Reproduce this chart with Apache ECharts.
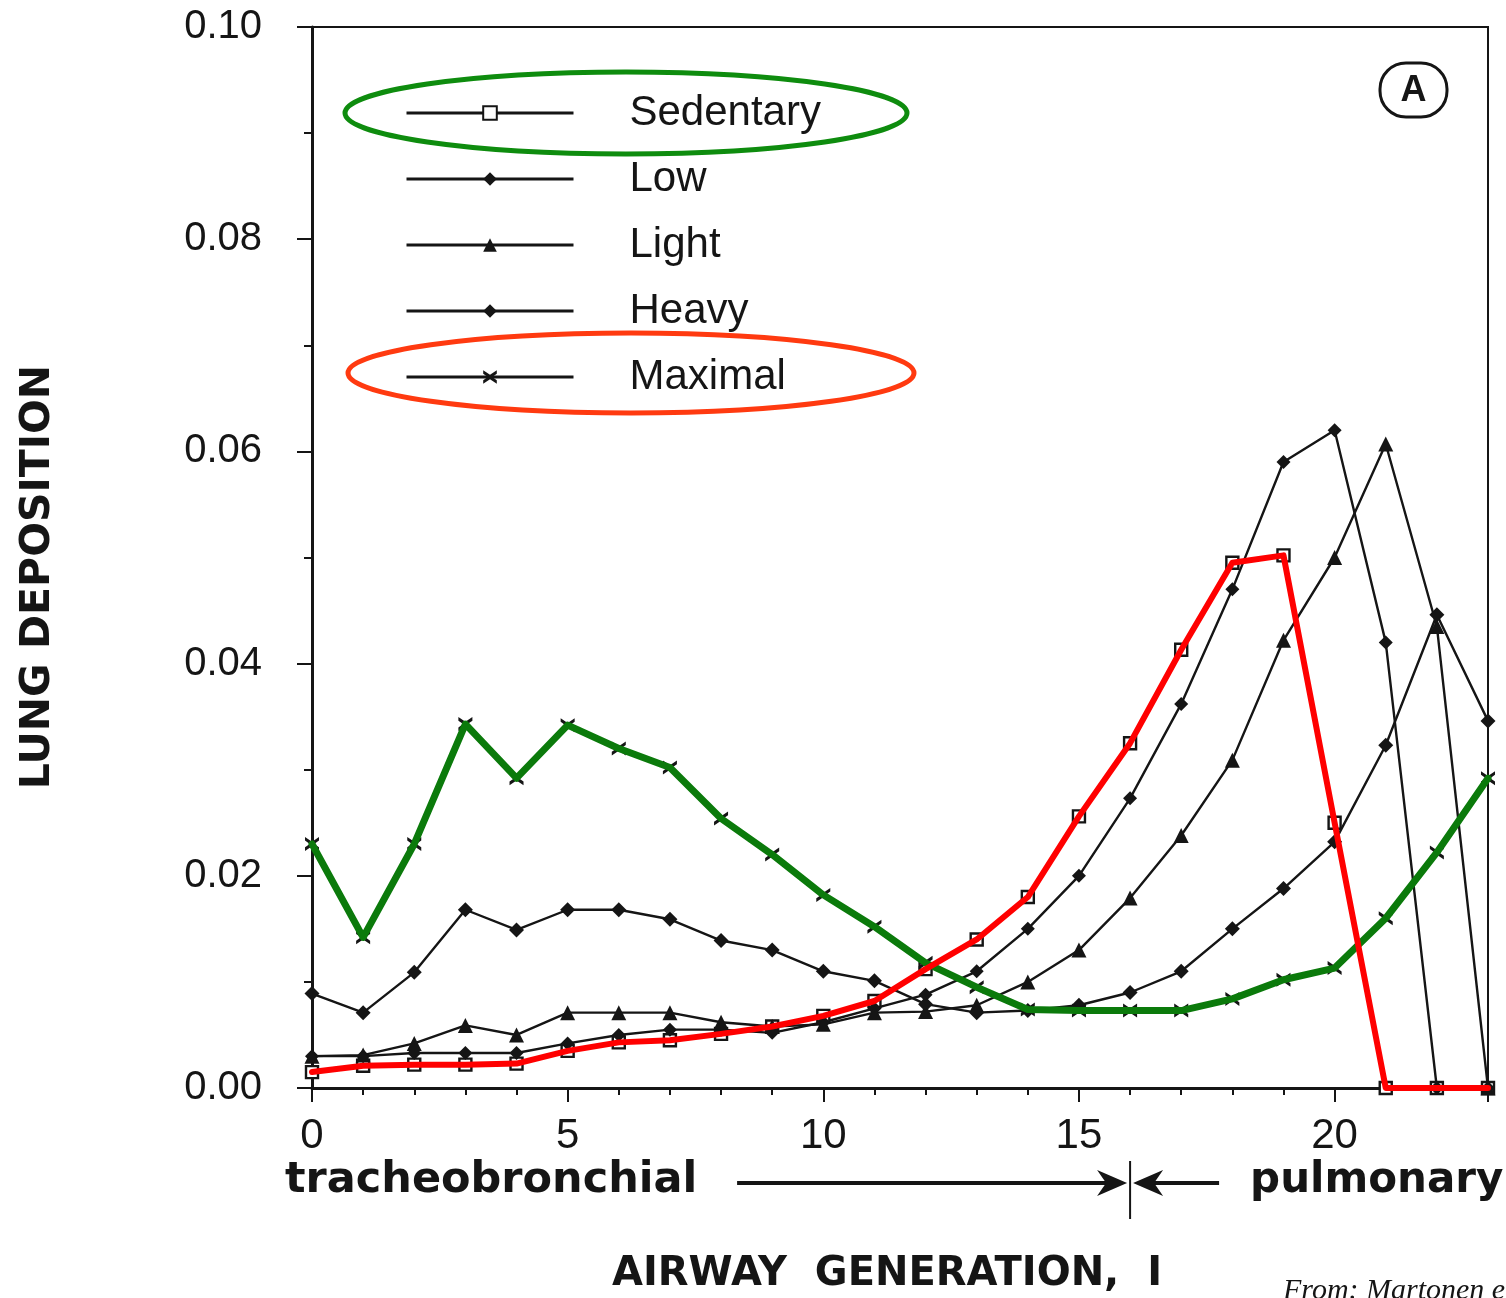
<!DOCTYPE html>
<html>
<head>
<meta charset="utf-8">
<script src="https://cdn.jsdelivr.net/npm/echarts@6/dist/echarts.min.js"></script>
<style>
  html, body { margin: 0; padding: 0; background: #ffffff; }
  #chart { width: 1506px; height: 1298px; }
</style>
</head>
<body>
<div id="chart"></div>
<script>
// Airway generation index (0 = trachea)
const generations = [0, 1, 2, 3, 4, 5, 6, 7, 8, 9, 10, 11, 12, 13, 14, 15, 16, 17, 18, 19, 20, 21, 22, 23];

// Fractional lung deposition per generation, by activity level
const sedentary = [0.0015, 0.0021, 0.0022, 0.0022, 0.0023, 0.0035, 0.0043, 0.0045, 0.0051, 0.0058, 0.0068, 0.0082,
                   0.0112, 0.0140, 0.0180, 0.0256, 0.0325, 0.0413, 0.0495, 0.0502, 0.0250, 0, 0, 0];
const low       = [0.0030, 0.0030, 0.0033, 0.0033, 0.0033, 0.0042, 0.0050, 0.0055, 0.0055, 0.0052, 0.0062, 0.0075,
                   0.0088, 0.0110, 0.0150, 0.0200, 0.0273, 0.0362, 0.0470, 0.0590, 0.0620, 0.0420, 0, 0];
const light     = [0.0030, 0.0031, 0.0042, 0.0059, 0.0050, 0.0071, 0.0071, 0.0071, 0.0062, 0.0058, 0.0060, 0.0071,
                   0.0072, 0.0078, 0.0100, 0.0130, 0.0179, 0.0238, 0.0309, 0.0422, 0.0500, 0.0607, 0.0435, 0];
const heavy     = [0.0089, 0.0071, 0.0109, 0.0168, 0.0149, 0.0168, 0.0168, 0.0159, 0.0139, 0.0130, 0.0110, 0.0101,
                   0.0079, 0.0071, 0.0073, 0.0078, 0.0090, 0.0110, 0.0150, 0.0188, 0.0232, 0.0323, 0.0446, 0.0346];
const maximal   = [0.0230, 0.0142, 0.0230, 0.0343, 0.0292, 0.0342, 0.0320, 0.0302, 0.0254, 0.0220, 0.0182, 0.0152,
                   0.0118, 0.0095, 0.0074, 0.0073, 0.0073, 0.0073, 0.0084, 0.0102, 0.0113, 0.0160, 0.0222, 0.0292];

// Axis ticks
const yTicks = [0, 0.02, 0.04, 0.06, 0.08, 0.10];
const xLabelTicks = [0, 5, 10, 15, 20];

const levelNames = ['Sedentary', 'Low', 'Light', 'Heavy', 'Maximal'];

const ink = '#151515';
const numFont = '"Liberation Sans", Arial, Helvetica, sans-serif';
const boldFont = '"DejaVu Sans", "Liberation Sans", sans-serif';
const xMark = 'path://M0,0L5,3.4L10,0L10,2.6L6.6,5L10,7.4L10,10L5,6.6L0,10L0,7.4L3.4,5L0,2.6Z';

const pairs = vals => generations.map((g, i) => [g, vals[i]]);

function levelSeries(name, vals, symbol, size, fill) {
  return {
    name: name,
    type: 'line',
    data: pairs(vals),
    symbol: symbol,
    symbolSize: size,
    showAllSymbol: true,
    lineStyle: { color: ink, width: 2.4 },
    itemStyle: { color: fill || ink, borderColor: ink, borderWidth: fill ? 2.4 : 0 },
    emphasis: { disabled: true },
    z: 3
  };
}

const chart = echarts.init(document.getElementById('chart'), null, { renderer: 'canvas' });

chart.setOption({
  animation: false,
  backgroundColor: '#ffffff',
  grid: {
    left: 312, right: 18, top: 27, bottom: 210,
    show: true, borderColor: ink, borderWidth: 2, backgroundColor: 'transparent'
  },
  legend: {
    data: levelNames,
    orient: 'vertical',
    left: 405,
    top: 91,
    padding: 0,
    itemWidth: 167,
    itemHeight: 17,
    itemGap: 22,
    selectedMode: false,
    lineStyle: { width: 3 },
    textStyle: {
      fontFamily: numFont, fontSize: 42, color: ink, lineHeight: 44,
      padding: [0, 0, 0, 51]
    }
  },
  xAxis: [
    {
      type: 'value', min: 0, max: 23, interval: 1,
      axisLine: { show: true, lineStyle: { color: ink, width: 3 } },
      axisTick: { show: true, length: 7, lineStyle: { color: ink, width: 2 } },
      axisLabel: { show: false },
      splitLine: { show: false }
    },
    {
      type: 'value', min: 0, max: 23, interval: 5, position: 'bottom',
      axisLine: { show: false },
      axisTick: { show: true, length: 14, lineStyle: { color: ink, width: 2 } },
      axisLabel: {
        show: true, margin: 27, fontFamily: numFont, fontSize: 42, color: ink,
        formatter: v => (xLabelTicks.indexOf(v) >= 0 ? String(v) : '')
      },
      splitLine: { show: false }
    }
  ],
  yAxis: {
    type: 'value', min: yTicks[0], max: yTicks[yTicks.length - 1], interval: 0.02,
    axisLine: { show: true, lineStyle: { color: ink, width: 3 } },
    axisTick: { show: true, length: 15, lineStyle: { color: ink, width: 2 } },
    minorTick: { show: true, splitNumber: 2, length: 8, lineStyle: { color: ink, width: 2 } },
    axisLabel: {
      margin: 50, fontFamily: numFont, fontSize: 40, color: ink,
      formatter: v => v.toFixed(2)
    },
    splitLine: { show: false },
    minorSplitLine: { show: false }
  },
  series: [
    levelSeries('Sedentary', sedentary, 'rect', 12, '#ffffff'),
    levelSeries('Low', low, 'diamond', 14),
    levelSeries('Light', light, 'triangle', 15),
    levelSeries('Heavy', heavy, 'diamond', 15),
    levelSeries('Maximal', maximal, xMark, 14),
    {
      name: 'Maximal trace', type: 'line', data: pairs(maximal), symbol: 'none', silent: true,
      lineStyle: { color: '#0b7a0b', width: 7, cap: 'round', join: 'round' }, z: 8
    },
    {
      name: 'Sedentary trace', type: 'line', data: pairs(sedentary), symbol: 'none', silent: true,
      lineStyle: { color: '#ff0000', width: 6, cap: 'round', join: 'round' }, z: 9
    }
  ]
});

// Region annotation below the axis, anchored at the tracheobronchial / pulmonary boundary
const bx = chart.convertToPixel({ xAxisIndex: 0 }, 16);
const axisY = chart.convertToPixel({ yAxisIndex: 0 }, 0);
const ay = axisY + 95;

chart.setOption({
  graphic: [
    // y-axis title
    { type: 'text', x: 38, y: 577, rotation: Math.PI / 2,
      style: { text: 'LUNG DEPOSITION', font: 'bold 41px ' + boldFont, fill: ink, align: 'center', verticalAlign: 'middle' } },
    // legend highlight rings
    { type: 'ellipse', shape: { cx: 626, cy: 113, rx: 281, ry: 41 },
      style: { fill: 'none', stroke: '#0e8c0e', lineWidth: 5 }, z: 20 },
    { type: 'ellipse', shape: { cx: 631, cy: 373, rx: 283, ry: 40 },
      style: { fill: 'none', stroke: '#ff3a10', lineWidth: 5 }, z: 20 },
    // panel tag
    { type: 'rect', shape: { x: 1380, y: 63, width: 67, height: 54, r: 26 },
      style: { fill: '#ffffff', stroke: ink, lineWidth: 3 }, z: 20 },
    { type: 'text', x: 1413.5, y: 91,
      style: { text: 'A', font: 'bold 36px ' + numFont, fill: ink, align: 'center', verticalAlign: 'middle' }, z: 21 },
    // region labels
    { type: 'text', x: 285, y: ay - 2,
      style: { text: 'tracheobronchial', font: 'bold 43px ' + boldFont, fill: ink, align: 'left', verticalAlign: 'middle' } },
    { type: 'text', x: bx + 120, y: ay - 2,
      style: { text: 'pulmonary', font: 'bold 42px ' + boldFont, fill: ink, align: 'left', verticalAlign: 'middle' } },
    // right-pointing arrow
    { type: 'line', shape: { x1: bx - 393, y1: ay, x2: bx - 20, y2: ay },
      style: { stroke: ink, lineWidth: 4 } },
    { type: 'polygon', shape: { points: [[bx - 3, ay], [bx - 33, ay - 13], [bx - 24, ay], [bx - 33, ay + 13]] },
      style: { fill: ink } },
    // left-pointing arrow
    { type: 'line', shape: { x1: bx + 20, y1: ay, x2: bx + 89, y2: ay },
      style: { stroke: ink, lineWidth: 4 } },
    { type: 'polygon', shape: { points: [[bx + 3, ay], [bx + 33, ay - 13], [bx + 24, ay], [bx + 33, ay + 13]] },
      style: { fill: ink } },
    // boundary marker
    { type: 'line', shape: { x1: bx, y1: ay - 22, x2: bx, y2: ay + 36 },
      style: { stroke: ink, lineWidth: 2 } },
    // x-axis title
    { type: 'text', x: 887, y: 1275,
      style: { text: 'AIRWAY  GENERATION,  I', font: 'bold 40px ' + boldFont, fill: ink, align: 'center', verticalAlign: 'middle' } },
    // source credit
    { type: 'text', x: 1283, y: 1276,
      style: { text: 'From: Martonen et al.', font: 'italic 30px "Liberation Serif", "Times New Roman", serif', fill: ink, align: 'left', verticalAlign: 'top' } }
  ]
});
</script>
</body>
</html>
